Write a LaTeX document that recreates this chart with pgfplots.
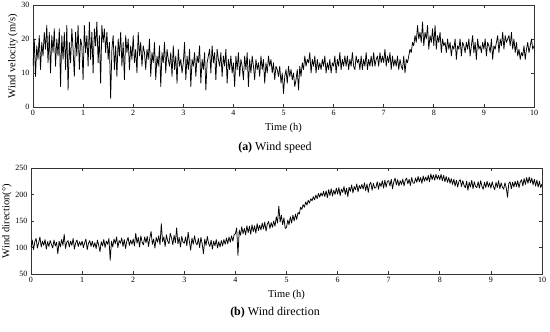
\documentclass[border=0pt]{standalone}
\usepackage{pgfplots}
\pgfplotsset{compat=1.18}
\usepackage{pgfplotstable}
\usepackage{fontspec}
\setmainfont{Liberation Serif}

% wind speed, one value every 0.025 h (10 values per line = 0.25 h)
\pgfplotstableread[row sep=\\,header=false]{
12\\20\\9\\18\\14\\21\\11\\19\\15\\22\\
17\\24\\13\\22\\10\\21\\16\\23\\12\\20\\
15\\23\\6\\21\\14\\22\\11\\24\\5\\19\\
13\\23\\17\\9\\22\\15\\24\\11\\20\\18\\
8\\24\\16\\21\\12\\25\\14\\22\\10\\23\\
18\\25\\13\\21\\7\\24\\19\\23\\16\\22\\
14\\19\\2.5\\17\\21\\11\\18\\9\\20\\15\\
22\\12\\19\\8\\21\\16\\20\\11\\18\\14\\
21\\13\\17\\10\\22\\15\\19\\12\\18\\16\\
11\\17\\14\\20\\9\\16\\13\\19\\8\\15\\
12\\18\\6\\16\\13\\19\\10\\17\\14\\12\\
16\\9\\18\\11\\15\\7\\17\\12\\14\\10\\
13\\19\\8\\15\\11\\17\\6\\14\\12\\16\\
9\\15\\13\\18\\7\\14\\11\\16\\5\\13\\
15\\17\\10\\18\\13\\16\\8\\17\\14\\12\\
16\\9\\15\\12\\17\\7\\14\\11\\15\\10\\
13\\6\\15\\11\\16\\9\\14\\12\\8\\15\\
11\\16\\6\\14\\10\\15\\12\\8\\14\\11\\
13\\9\\15\\11\\14\\7\\13\\10\\15\\12\\
14\\10\\13\\8\\12\\11\\9\\12\\7\\10\\
4\\9\\11\\7\\12\\9\\11\\8\\10\\6\\
8\\11\\5\\12\\9\\13\\11\\15\\12\\14\\
13\\16\\10\\14\\12\\15\\10\\14\\11\\13\\
11\\14\\12\\15\\10\\13\\11\\14\\10\\13\\
12\\15\\10\\14\\12\\16\\11\\14\\12\\15\\
12\\15\\11\\14\\12\\16\\12\\11\\15\\13\\
14\\11\\15\\11\\14\\12\\16\\11\\14\\12\\
15\\12\\16\\12\\14\\15\\12\\16\\13\\15\\
13\\17\\12\\15\\13\\16\\11\\15\\12\\14\\
12\\15\\11\\14\\12\\11\\15\\10\\14\\13\\
15\\17\\16\\19\\18\\21\\19\\24\\20\\22\\
19\\25\\18\\22\\20\\24\\17\\21\\19\\23\\
18\\24\\17\\21\\19\\22\\16\\20\\18\\19\\
16\\20\\17\\19\\15\\18\\17\\20\\14\\18\\
17\\20\\15\\19\\18\\16\\19\\17\\20\\15\\
18\\21\\16\\19\\14\\20\\17\\18\\16\\19\\
17\\20\\15\\19\\18\\16\\20\\14\\18\\17\\
19\\21\\16\\20\\18\\22\\17\\21\\19\\20\\
21\\18\\22\\17\\20\\16\\19\\15\\17\\14\\
16\\15\\18\\14\\17\\19\\16\\18\\20\\17\\
18\\
}\speed

% wind direction, one value every 0.025 h
\pgfplotstableread[row sep=\\,header=false]{
100\\114\\96\\111\\117\\99\\109\\120\\101\\112\\
104\\115\\97\\111\\102\\113\\106\\99\\114\\103\\
110\\88\\112\\101\\115\\104\\125\\98\\110\\113\\
101\\112\\104\\117\\97\\109\\114\\102\\111\\104\\
112\\100\\109\\116\\96\\108\\113\\102\\112\\101\\
109\\98\\114\\104\\92\\111\\103\\115\\100\\112\\
106\\117\\76\\112\\101\\116\\107\\120\\100\\113\\
108\\118\\102\\115\\98\\112\\119\\104\\114\\106\\
116\\103\\127\\108\\119\\101\\122\\110\\105\\120\\
109\\121\\102\\118\\130\\106\\116\\99\\119\\110\\
122\\105\\145\\111\\120\\102\\124\\112\\107\\127\\
118\\105\\123\\109\\137\\107\\119\\101\\121\\110\\
108\\120\\103\\129\\111\\95\\118\\106\\122\\109\\
105\\117\\100\\119\\107\\88\\116\\104\\121\\108\\
102\\114\\97\\112\\103\\115\\99\\111\\101\\113\\
103\\115\\106\\118\\107\\120\\110\\122\\112\\124\\
126\\137\\85\\133\\123\\139\\126\\136\\124\\141\\
128\\140\\125\\143\\130\\141\\127\\145\\132\\142\\
133\\146\\135\\148\\131\\144\\149\\136\\147\\138\\
150\\140\\158\\146\\178\\148\\161\\143\\156\\136\\
138\\152\\143\\158\\146\\161\\150\\163\\153\\166\\
163\\176\\172\\181\\176\\186\\180\\189\\184\\192\\
188\\196\\190\\199\\192\\202\\195\\203\\197\\206\\
196\\207\\194\\209\\198\\211\\197\\208\\200\\212\\
201\\213\\198\\210\\204\\215\\200\\212\\196\\214\\
206\\218\\203\\215\\209\\220\\205\\217\\211\\219\\
210\\222\\207\\220\\204\\219\\223\\208\\221\\212\\
213\\224\\210\\222\\215\\226\\212\\227\\214\\225\\
226\\216\\229\\211\\224\\231\\218\\228\\216\\226\\
219\\229\\216\\227\\231\\220\\229\\217\\232\\222\\
221\\231\\223\\234\\224\\232\\221\\235\\225\\233\\
226\\236\\224\\239\\228\\237\\227\\238\\229\\236\\
228\\238\\226\\236\\224\\234\\223\\232\\221\\230\\
219\\229\\216\\227\\214\\225\\228\\215\\226\\217\\
213\\225\\208\\223\\214\\227\\211\\224\\215\\213\\
224\\212\\226\\215\\210\\223\\213\\225\\214\\222\\
212\\224\\215\\209\\223\\213\\226\\211\\222\\214\\
210\\222\\213\\195\\221\\224\\211\\223\\214\\225\\
215\\226\\213\\224\\228\\216\\230\\219\\232\\221\\
233\\222\\231\\218\\229\\216\\227\\214\\225\\213\\
220\\
}\direction

\pgfplotsset{
  mystyle/.style={
    scale only axis,
    xmin=0, xmax=10,
    xtick={0,1,...,10},
    tick align=inside,
    tick pos=both,
    /pgf/number format/assume math mode=true,
    ticklabel style={font=\fontsize{8}{8}\selectfont},
    label style={font=\fontsize{10.5}{11}\selectfont},
    axis line style={line width=0.6pt, black!80},
    major tick length=3pt,
    every tick/.style={black!80, line width=0.8pt},
    xlabel={Time (h)},
  }
}

\begin{document}
\begin{tikzpicture}
\useasboundingbox (0,0) rectangle (550pt,332pt);
\begin{axis}[mystyle,
  at={(33pt,225pt)}, anchor=south west,
  width=501pt, height=102pt,
  ymin=0, ymax=30, ytick={0,10,20,30},
  ylabel={Wind velocity (m/s)},
  ylabel style={yshift=-3pt},
]
\addplot[black, line width=0.75pt, line join=round] table[x expr=\coordindex*0.025, y index=0] {\speed};
\end{axis}
\node[font=\fontsize{12}{13}\selectfont] at (275pt,184pt) {\textbf{(a)} Wind speed};

\begin{axis}[mystyle,
  at={(31pt,58pt)}, anchor=south west,
  width=511pt, height=106pt,
  ymin=50, ymax=250, ytick={50,100,150,200,250},
  ylabel={Wind direction(°)},
  ylabel style={yshift=-3pt},
]
\addplot[black, line width=0.75pt, line join=round] table[x expr=\coordindex*0.025, y index=0] {\direction};
\end{axis}
\node[font=\fontsize{12}{13}\selectfont] at (275pt,19pt) {\textbf{(b)} Wind direction};
\end{tikzpicture}
\end{document}
